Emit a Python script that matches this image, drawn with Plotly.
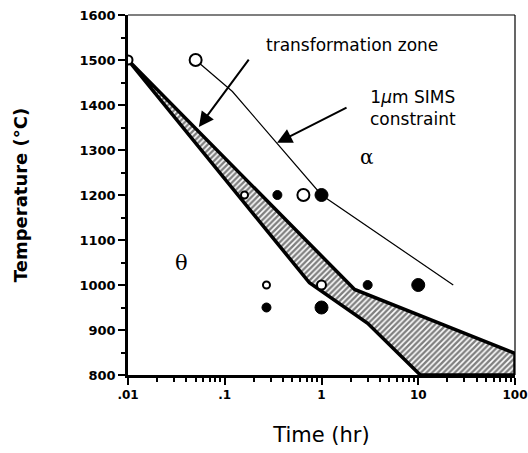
import plotly.graph_objects as go
import math

# ---- data ----
open_x = [0.01, 0.05, 0.16, 0.65, 0.27, 1.0]
open_y = [1500, 1500, 1200, 1200, 1000, 1000]
open_cls = ["m", "l", "s", "l", "s", "m"]

filled_x = [0.35, 1.0, 0.27, 1.0, 3.0, 10.0]
filled_y = [1200, 1200, 950, 950, 1000, 1000]
filled_cls = ["m", "l", "m", "l", "m", "l"]

sims_x = [0.05, 0.12, 1.0, 23]
sims_y = [1500, 1430, 1200, 1000]

zone_upper_x = [0.01, 2.2, 100]
zone_upper_y = [1500, 990, 848]
zone_lower_x = [0.01, 0.75, 3.0, 10.5, 100]
zone_lower_y = [1500, 1005, 915, 800, 800]

x_tickvals = [0.01, 0.1, 1, 10, 100]
x_ticktext = [".01", ".1", "1", "10", "100"]

open_size = {"s": 7, "m": 9, "l": 12}
filled_size = {"m": 9, "l": 13}

fig = go.Figure()

# hatched transformation zone
poly_x = zone_upper_x + zone_lower_x[::-1]
poly_y = zone_upper_y + zone_lower_y[::-1]
fig.add_trace(go.Scatter(
    x=poly_x, y=poly_y, mode="lines", fill="toself",
    fillcolor="white",
    fillpattern=dict(shape="/", fgcolor="black", bgcolor="white", size=4, solidity=0.6),
    line=dict(color="black", width=3.5), showlegend=False, hoverinfo="skip"))

# SIMS constraint line
fig.add_trace(go.Scatter(x=sims_x, y=sims_y, mode="lines",
                         line=dict(color="black", width=1.2), showlegend=False))

fig.add_trace(go.Scatter(
    x=open_x, y=open_y, mode="markers",
    marker=dict(size=[open_size[c] for c in open_cls], color="white", opacity=1,
                line=dict(color="black", width=2)), showlegend=False))
fig.add_trace(go.Scatter(
    x=filled_x, y=filled_y, mode="markers",
    marker=dict(size=[filled_size[c] for c in filled_cls], color="black", opacity=1,
                line=dict(color="black", width=1)), showlegend=False))

minor_x = [k * 10 ** n for n in range(-2, 2) for k in range(2, 10)]

font = "DejaVu Sans, Verdana, sans-serif"
fig.update_layout(
    width=528, height=453,
    margin=dict(l=128, r=13, t=15, b=78),
    plot_bgcolor="white", paper_bgcolor="white",
    font=dict(family=font, color="black"),
    xaxis=dict(type="log", range=[-2, 2], tickmode="array", automargin=False,
               tickvals=x_tickvals, ticktext=x_ticktext,
               ticks="outside", ticklen=7, tickwidth=2, tickcolor="black",
               showline=True, linecolor="black", linewidth=2.5,
               showgrid=False, zeroline=False,
               minor=dict(tickmode="array", tickvals=minor_x, ticks="outside",
                          ticklen=4, tickwidth=1.5, tickcolor="black", showgrid=False),
               tickfont=dict(size=12, family=font, weight="bold"),
               title=dict(text="Time (hr)", font=dict(size=21, family=font), standoff=27)),
    yaxis=dict(range=[800, 1600], dtick=100, tick0=800, automargin=False,
               ticks="outside", ticklen=7, tickwidth=2, tickcolor="black",
               showline=True, linecolor="black", linewidth=2.5,
               showgrid=False, zeroline=False,
               minor=dict(dtick=50, ticks="outside", ticklen=4, tickwidth=1.5,
                          tickcolor="black", showgrid=False),
               tickfont=dict(size=13, family=font, weight="bold"),
               title=dict(text="Temperature (°C)", font=dict(size=18, family=font, weight="bold"),
                          standoff=48)),
)

# top and right thin frame lines
fig.add_shape(type="line", xref="paper", yref="paper", x0=0, x1=1, y0=1, y1=1,
              line=dict(color="black", width=1.2))
fig.add_shape(type="line", xref="paper", yref="paper", x0=1, x1=1, y0=0, y1=1,
              line=dict(color="black", width=1.2))

L = math.log10
fig.add_annotation(x=L(0.054), y=1351, text="", showarrow=True, ax=51, ay=-69,
                   arrowhead=2, arrowsize=1.5, arrowwidth=2, arrowcolor="black")
fig.add_annotation(x=L(0.347), y=1316, text="", showarrow=True, ax=71, ay=-36,
                   arrowhead=2, arrowsize=1.5, arrowwidth=2, arrowcolor="black")

fig.add_annotation(x=L(2.07), y=1533, text="transformation zone",
                   showarrow=False, xanchor="center", yanchor="middle",
                   font=dict(size=17, family=font))
fig.add_annotation(x=L(8.8), y=1393, text="1<i>μ</i>m SIMS<br>constraint",
                   showarrow=False, align="center", yanchor="middle",
                   font=dict(size=17, family=font))
fig.add_annotation(x=L(2.95), y=1284, text="α", showarrow=False,
                   font=dict(size=20, family="DejaVu Serif, serif"))
fig.add_annotation(x=L(0.036), y=1049, text="θ", showarrow=False,
                   font=dict(size=21, family="DejaVu Serif, serif"))

fig.write_html("out.html")
